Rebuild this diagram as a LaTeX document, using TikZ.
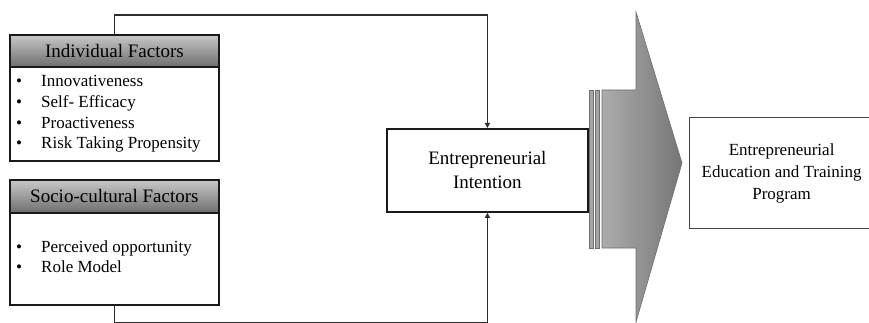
\documentclass[tikz,border=0pt]{standalone}
\usepackage{fontspec}
\setmainfont{Liberation Serif}
\usetikzlibrary{arrows.meta}

\definecolor{boxedge}{RGB}{25,25,25}
\definecolor{linkc}{RGB}{45,45,45}
\definecolor{hdtop}{RGB}{200,200,200}
\definecolor{hdbot}{RGB}{110,110,110}
\definecolor{arrL}{RGB}{172,172,172}
\definecolor{arrR}{RGB}{118,118,118}
\definecolor{arredge}{RGB}{110,110,110}
\definecolor{stripefill}{RGB}{165,165,165}
\definecolor{outedge}{RGB}{70,70,70}

\tikzset{
  panel/.style={draw=boxedge, line width=1.8pt, fill=white, anchor=north west,
    inner sep=0pt, minimum width=209pt},
  header/.style={panel, top color=hdtop, bottom color=hdbot, minimum height=32pt,
    font=\fontsize{19}{23}\selectfont},
  item/.style={anchor=base west, inner sep=0pt, font=\fontsize{17}{20}\selectfont},
  link/.style={draw=linkc, line width=1.4pt, -{Triangle[length=5pt,width=5pt]}},
  stripe/.style={fill=stripefill, draw=arredge, line width=0.5pt},
}
\newcommand{\bulitem}[1]{\makebox[25pt][l]{•}#1}

\begin{document}
\begin{tikzpicture}[x=1pt, y=-1pt]
  \clip (0,0) rectangle (869,323);
  \fill[white] (0,0) rectangle (869,323);

  % individual factors
  \node[panel, minimum height=126pt] (ind) at (9,34) {};
  \node[header] (indh) at (9,34) {Individual Factors};
  \node[item] (i1) at (16,87)  {\bulitem{Innovativeness}};
  \node[item] (i2) at (16,108) {\bulitem{Self- Efficacy}};
  \node[item] (i3) at (16,129) {\bulitem{Proactiveness}};
  \node[item] (i4) at (16,149) {\bulitem{Risk Taking Propensity}};

  % socio-cultural factors
  \node[panel, minimum height=125pt] (soc) at (9,179) {};
  \node[header, minimum height=33pt] (soch) at (9,179) {Socio-cultural Factors};
  \node[item] (s1) at (16,252) {\bulitem{Perceived opportunity}};
  \node[item] (s2) at (16,272) {\bulitem{Role Model}};

  % intention
  \node[panel, minimum width=201pt, minimum height=83pt, align=center,
        font=\fontsize{19}{24}\selectfont] (ei) at (386,128)
        {Entrepreneurial\\Intention};

  % connectors into the intention box
  \draw[link] (indh.north) -- ++(0,-19) -| (ei.north);
  \draw[link] (soc.south) -- ++(0,16.5) -| (ei.south);

  % striped block arrow
  \path[stripe] (589,90) rectangle (593,248);
  \path[stripe] (595,90) rectangle (599,248);
  \path[draw=arredge, line width=0.6pt, left color=arrL, right color=arrR]
    (602,90) -- (636,90) -- (636,12) -- (682,163) -- (636,322)
    -- (636,248) -- (602,248) -- cycle;

  % programme box
  \node[draw=outedge, line width=1.2pt, fill=white, anchor=north west,
        minimum width=184pt, minimum height=111pt, inner sep=0pt, align=center,
        font=\fontsize{17}{22}\selectfont] (eetp) at (689,117)
        {Entrepreneurial\\Education and Training\\Program};
\end{tikzpicture}
\end{document}
